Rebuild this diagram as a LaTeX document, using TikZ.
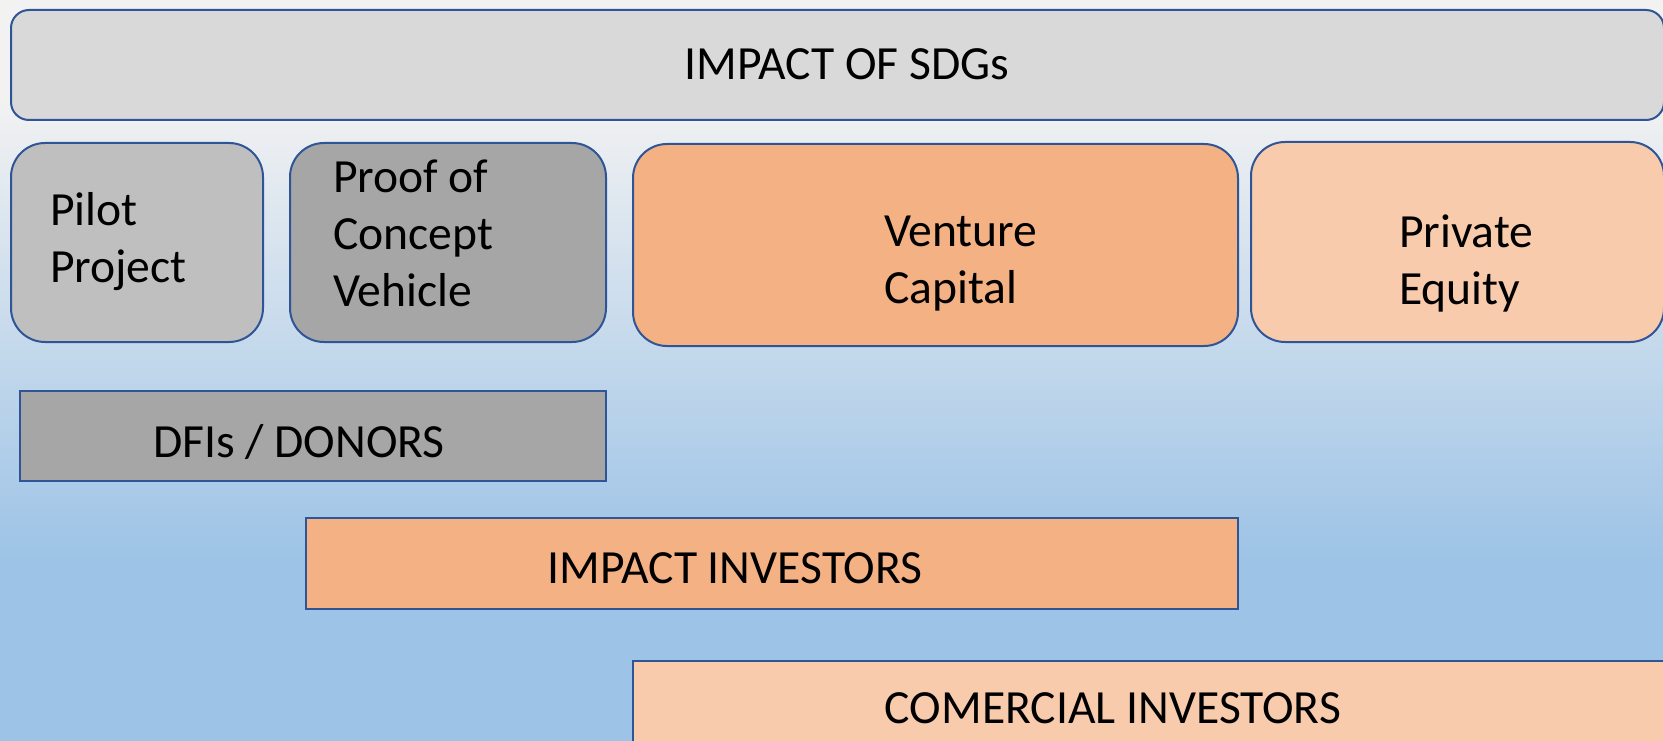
\documentclass[tikz,border=0pt]{standalone}
\usepackage{fontspec}
\setmainfont{Carlito}
\definecolor{bordc}{HTML}{2F5597}
\definecolor{bgtop}{HTML}{F2F2F2}
\definecolor{bgbot}{HTML}{9DC3E6}
\definecolor{lgray}{HTML}{D9D9D9}
\definecolor{mgray}{HTML}{BFBFBF}
\definecolor{dgray}{HTML}{A6A6A6}
\definecolor{orng}{HTML}{F4B183}
\definecolor{peach}{HTML}{F8CBAD}
\begin{document}
\begin{tikzpicture}[x=1pt,y=-1pt,
  box/.style={draw=bordc, line width=2pt, anchor=north west, inner sep=0pt, outer sep=0pt},
  rbox/.style={box, rounded corners=34pt},
  txt/.style={inner sep=0pt, outer sep=0pt, font=\fontsize{47.6}{57}\selectfont, text=black}]
\useasboundingbox (0,0) rectangle (1663,741);
\clip (0,0) rectangle (1663,741);
% background
\fill[bgtop] (0,0) rectangle (1663,100);
\shade[top color=bgtop, bottom color=bgbot] (0,99.5) rectangle (1663,560);
\fill[bgbot] (0,559.5) rectangle (1663,741);
% top bar
\node[box, rounded corners=18pt, fill=lgray, minimum width=1653pt, minimum height=110pt] (sdg) at (11,10) {};
\node[txt, anchor=base] (sdgtxt) at (847,80) {IMPACT OF SDGs};
% stage boxes
\node[rbox, fill=mgray, minimum width=252pt, minimum height=199pt] (pilot) at (11,143) {};
\node[rbox, fill=dgray, minimum width=316pt, minimum height=199pt] (proof) at (290,143) {};
\node[rbox, fill=orng, minimum width=605pt, minimum height=202pt] (venture) at (633,144) {};
\node[rbox, fill=peach, minimum width=413pt, minimum height=200pt] (private) at (1251,142) {};
\node[txt, anchor=base west] (pilottxt) at (50,225) {\begin{tabular}[t]{@{}l@{}}Pilot\\Project\end{tabular}};
\node[txt, anchor=base west] (prooftxt) at (333,193) {\begin{tabular}[t]{@{}l@{}}Proof of\\Concept\\Vehicle\end{tabular}};
\node[txt, anchor=base west] (venturetxt) at (884,246) {\begin{tabular}[t]{@{}l@{}}Venture\\Capital\end{tabular}};
\node[txt, anchor=base west] (privatetxt) at (1399,247) {\begin{tabular}[t]{@{}l@{}}Private\\Equity\end{tabular}};
% investor bars
\node[box, fill=dgray, minimum width=586pt, minimum height=90pt] (dfis) at (20,391) {};
\node[txt, anchor=base] (dfistxt) at (299,457) {DFIs / DONORS};
\node[box, fill=orng, minimum width=932pt, minimum height=91pt] (impact) at (306,518) {};
\node[txt, anchor=base] (impacttxt) at (735,583) {IMPACT INVESTORS};
\node[box, fill=peach, minimum width=1032pt, minimum height=100pt] (comm) at (633,661) {};
\node[txt, anchor=base] (commtxt) at (1113,723) {COMERCIAL INVESTORS};
\end{tikzpicture}
\end{document}
